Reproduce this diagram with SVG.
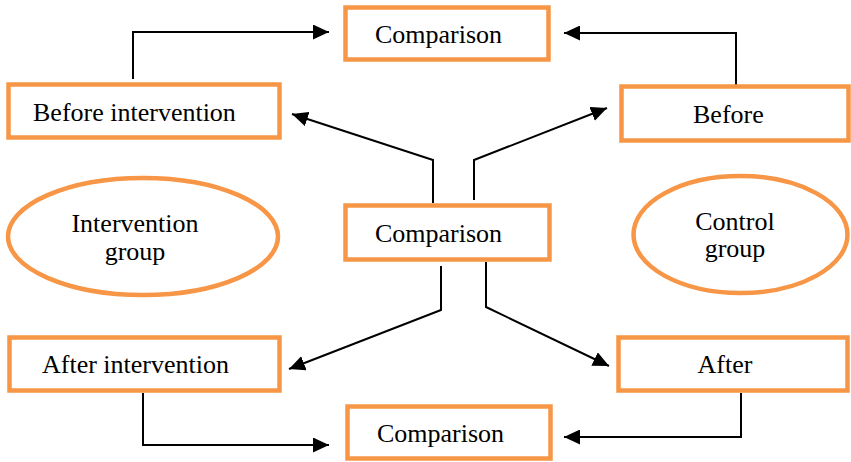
<svg xmlns="http://www.w3.org/2000/svg" width="851" height="462" viewBox="0 0 851 462">
<style>
.box{fill:#fff;stroke:#F79646;stroke-width:4.5}
.ell{fill:#fff;stroke:#F79646;stroke-width:4.5}
.t{font-family:"Liberation Serif","Times New Roman",serif;font-size:26px;fill:#000}
.c{fill:none;stroke:#000;stroke-width:2}
</style>
<defs>
<marker id="ah" markerUnits="userSpaceOnUse" markerWidth="17" markerHeight="15" refX="16" refY="7.5" orient="auto">
<path d="M0,0 L16,7.5 L0,15 z" fill="#000"/>
</marker>
</defs>
<rect width="851" height="462" fill="#fff"/>
<g id="connectors">
<path class="c" d="M133,79 V32 H329" marker-end="url(#ah)"/>
<path class="c" d="M736,85 V33 H564" marker-end="url(#ah)"/>
<path class="c" d="M433,203 V160 L292,114" marker-end="url(#ah)"/>
<path class="c" d="M474,200 V160 L607,108" marker-end="url(#ah)"/>
<path class="c" d="M441,266 V310 L289,369" marker-end="url(#ah)"/>
<path class="c" d="M486,262 V307 L609,366" marker-end="url(#ah)"/>
<path class="c" d="M143,393 V445 H329" marker-end="url(#ah)"/>
<path class="c" d="M741,393 V437 H564" marker-end="url(#ah)"/>
</g>
<g id="comparison-top">
<rect class="box" x="345.5" y="7.5" width="203" height="52"/>
<text class="t" x="375" y="43">Comparison</text>
</g>
<g id="before-intervention">
<rect class="box" x="8.5" y="84.5" width="271" height="53"/>
<text class="t" x="33" y="121">Before intervention</text>
</g>
<g id="before">
<rect class="box" x="621.5" y="86.5" width="227" height="54"/>
<text class="t" x="693" y="123">Before</text>
</g>
<g id="intervention-group">
<ellipse class="ell" cx="143" cy="236.5" rx="135" ry="58.5"/>
<text class="t" x="135" y="232" text-anchor="middle">Intervention</text>
<text class="t" x="135" y="260" text-anchor="middle">group</text>
</g>
<g id="comparison-center">
<rect class="box" x="345.5" y="205.5" width="204" height="54"/>
<text class="t" x="375" y="242">Comparison</text>
</g>
<g id="control-group">
<ellipse class="ell" cx="740.5" cy="234.5" rx="107" ry="58.5"/>
<text class="t" x="735" y="230" text-anchor="middle">Control</text>
<text class="t" x="735" y="257" text-anchor="middle">group</text>
</g>
<g id="after-intervention">
<rect class="box" x="9.5" y="337.5" width="270" height="53"/>
<text class="t" x="42" y="373">After intervention</text>
</g>
<g id="after">
<rect class="box" x="618.5" y="337.5" width="229" height="53"/>
<text class="t" x="725" y="373" text-anchor="middle">After</text>
</g>
<g id="comparison-bottom">
<rect class="box" x="347.5" y="406.5" width="203" height="52"/>
<text class="t" x="377" y="442">Comparison</text>
</g>
</svg>
